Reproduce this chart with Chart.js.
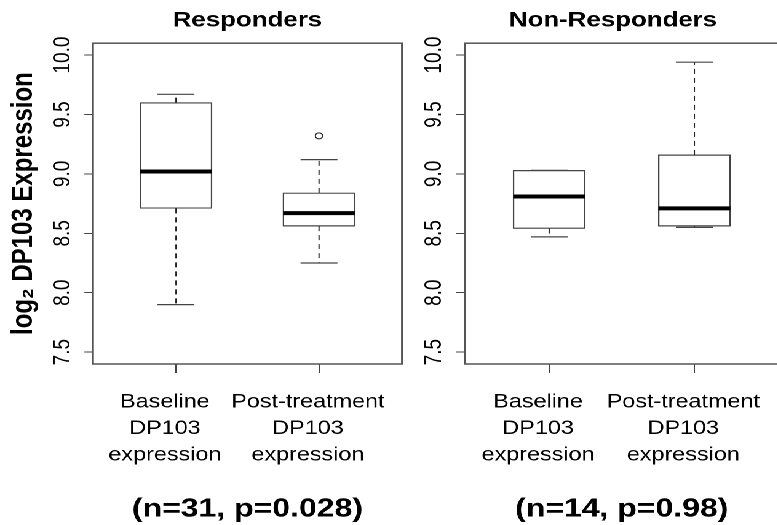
<!DOCTYPE html>
<html>
<head>
<meta charset="utf-8">
<script src="https://cdn.jsdelivr.net/npm/chart.js@4.4.1/dist/chart.umd.min.js"></script>
<style>
html, body { margin:0; padding:0; background:#fff; overflow:hidden; width:777px; height:525px; }
/* the reference figure is stretched sideways, so draw narrow and widen */
#stretch { position:absolute; left:0; top:0; width:632px; height:525px; transform:scaleX(1.23); transform-origin:0 0; }
#resp { position:absolute; left:0; top:0; }
#nonresp { position:absolute; left:332px; top:0; }
</style>
</head>
<body>
<div id="stretch">
  <canvas id="resp" width="332" height="525"></canvas>
  <canvas id="nonresp" width="306" height="525"></canvas>
</div>
<script>
var categories = [['Baseline', 'DP103', 'expression'], ['Post-treatment', 'DP103', 'expression']];
var positions = [1, 2];
var yTicks = [7.5, 8.0, 8.5, 9.0, 9.5, 10.0];
var yTitle = 'log\u2082 DP103 Expression';

var respTitle = 'Responders';
var respStats = '(n=31, p=0.028)';
var respLower  = [7.90, 8.25];
var respQ1     = [8.71, 8.56];
var respMedian = [9.02, 8.67];
var respQ3     = [9.60, 8.84];
var respUpper  = [9.67, 9.12];
var respOutliers = [[], [9.32]];

var nonTitle = 'Non-Responders';
var nonStats = '(n=14, p=0.98)';
var nonLower  = [8.47, 8.55];
var nonQ1     = [8.54, 8.56];
var nonMedian = [8.81, 8.71];
var nonQ3     = [9.03, 9.16];
var nonUpper  = [9.03, 9.94];
var nonOutliers = [[], []];

Chart.defaults.font.family = '"Liberation Sans", Arial, sans-serif';
Chart.defaults.color = '#000';

var BOX_W = 58.5;
var CAP_W = 30;

function makePanel(id, title, stats, lower, q1, med, q3, upper, outliers, cfg)
{
  var boxes = positions.map(function (p, i) { return {x: p, y: [q1[i], q3[i]]}; });
  var outs = [];
  outliers.forEach(function (list, i) {
    list.forEach(function (v) { outs.push({x: positions[i], y: v}); });
  });

  var whiskers = {
    id: 'whiskers',
    afterLayout: function (chart) {
      // the title in the reference sits a little off the plot centre
      chart.titleBlock.left += cfg.titleShift;
      chart.titleBlock.right += cfg.titleShift;
    },
    beforeDatasetsDraw: function (chart) {
      var a = chart.chartArea, c = chart.ctx;
      c.save();
      c.strokeStyle = '#555';
      c.lineWidth = 1.5;
      c.strokeRect(a.left, a.top, a.right - a.left, a.bottom - a.top);
      c.restore();
    },
    afterDatasetsDraw: function (chart) {
      var xs = chart.scales.x, ys = chart.scales.y, c = chart.ctx;
      c.save();
      for (var i = 0; i < positions.length; i++) {
        var x = xs.getPixelForValue(positions[i]);
        var yl = ys.getPixelForValue(lower[i]);
        var y1 = ys.getPixelForValue(q1[i]);
        var ym = ys.getPixelForValue(med[i]);
        var y3 = ys.getPixelForValue(q3[i]);
        var yu = ys.getPixelForValue(upper[i]);
        c.strokeStyle = '#222';
        c.lineWidth = 1;
        c.setLineDash([5, 4]);
        c.beginPath();
        c.moveTo(x, y3); c.lineTo(x, yu);
        c.moveTo(x, y1); c.lineTo(x, yl);
        c.stroke();
        c.setLineDash([]);
        c.strokeStyle = '#444';
        c.lineWidth = 1.2;
        c.beginPath();
        c.moveTo(x - CAP_W / 2, yu); c.lineTo(x + CAP_W / 2, yu);
        c.moveTo(x - CAP_W / 2, yl); c.lineTo(x + CAP_W / 2, yl);
        c.stroke();
        c.strokeStyle = '#000';
        c.lineWidth = 4;
        c.beginPath();
        c.moveTo(x - BOX_W / 2, ym); c.lineTo(x + BOX_W / 2, ym);
        c.stroke();
      }
      c.restore();
    }
  };

  return new Chart(document.getElementById(id), {
    type: 'bar',
    data: {
      datasets: [
        {
          data: boxes,
          backgroundColor: '#fff',
          borderColor: '#444',
          borderWidth: 1.2,
          borderSkipped: false,
          barThickness: BOX_W
        },
        {
          type: 'scatter',
          data: outs,
          pointStyle: 'circle',
          pointRadius: 3,
          pointBorderWidth: 1,
          pointBorderColor: '#222',
          pointBackgroundColor: '#fff'
        }
      ]
    },
    options: {
      responsive: false,
      animation: false,
      devicePixelRatio: 2,
      layout: { padding: cfg.padding },
      plugins: {
        legend: { display: false },
        tooltip: { enabled: false },
        title: {
          display: true,
          text: title,
          fullSize: false,
          font: { size: 21, weight: 'bold' },
          color: '#000',
          padding: { top: 8, bottom: 10 }
        }
      },
      scales: {
        x: {
          type: 'linear',
          min: 0.42,
          max: 2.58,
          offset: false,
          afterBuildTicks: function (s) { s.ticks = positions.map(function (p) { return {value: p}; }); },
          afterFit: function (s) { s.height = 161; s.paddingLeft = 0; s.paddingRight = 0; },
          ticks: {
            autoSkip: false,
            maxRotation: 0,
            padding: 16,
            labelOffset: -9,
            font: { size: 19, lineHeight: 1.4 },
            color: '#000',
            callback: function (v) { return categories[positions.indexOf(v)]; }
          },
          grid: { drawOnChartArea: false, offset: false, tickLength: 9, tickColor: '#444', tickWidth: 1 },
          border: { display: false },
          title: {
            display: true,
            text: stats,
            font: { size: 26, weight: 'bold' },
            color: '#000',
            padding: { top: 0, bottom: 0 }
          }
        },
        y: {
          min: 7.4,
          max: 10.1,
          afterBuildTicks: function (s) { s.ticks = yTicks.map(function (v) { return {value: v}; }); },
          afterFit: function (s) { s.width = cfg.yWidth; s.paddingTop = 0; s.paddingBottom = 0; },
          ticks: {
            minRotation: 90,
            maxRotation: 90,
            crossAlign: 'center',
            padding: -1,
            font: { size: 19 },
            color: '#000',
            callback: function (v) { return v.toFixed(1); }
          },
          grid: { drawOnChartArea: false, tickLength: 7, tickColor: '#444', tickWidth: 1 },
          border: { display: false },
          title: {
            display: cfg.showYTitle,
            text: yTitle,
            font: { size: 24, weight: 'bold' },
            color: '#000',
            padding: { top: 5, bottom: 0 }
          }
        }
      }
    },
    plugins: [whiskers]
  });
}

makePanel('resp', respTitle, respStats, respLower, respQ1, respMedian, respQ3, respUpper, respOutliers,
  { padding: { left: 0, right: 5.2, top: 0, bottom: 0 }, yWidth: 75.6, titleShift: 0, showYTitle: true });
makePanel('nonresp', nonTitle, nonStats, nonLower, nonQ1, nonMedian, nonQ3, nonUpper, nonOutliers,
  { padding: { left: 0, right: 5, top: 0, bottom: 0 }, yWidth: 46, titleShift: -7.1, showYTitle: false });
</script>
</body>
</html>
